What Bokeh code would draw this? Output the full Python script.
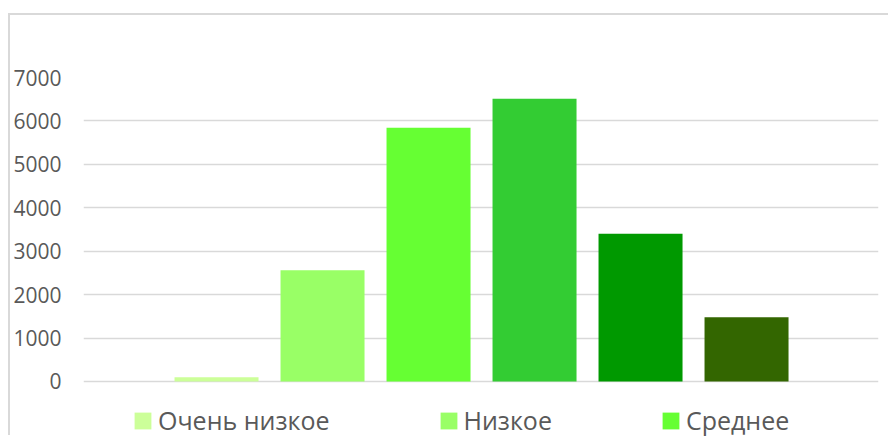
from bokeh.plotting import figure
from bokeh.models import ColumnDataSource, Range1d, Legend, LegendItem, FixedTicker
from bokeh.embed import file_html
from bokeh.resources import INLINE

categories = ["Очень низкое", "Низкое", "Среднее", "Выше среднего", "Высокое", "Очень высокое"]
values = [100, 2560, 5840, 6510, 3400, 1480]
colors = ["#CCFF99", "#99FF66", "#66FF33", "#33CC33", "#009900", "#336600"]
y_ticks = [0, 1000, 2000, 3000, 4000, 5000, 6000, 7000]
legend_shown = 3

FONT = "Open Sans"
TXT = "#595959"

src = ColumnDataSource(dict(x=list(range(len(categories))), top=values, color=colors, name=categories))

# frame extends below zero to hold the legend area (no gridlines there)
p = figure(width=880, height=422, output_backend="svg", toolbar_location=None,
           x_range=Range1d(-1.255, 6.245), y_range=Range1d(-1290, 7000),
           min_border_left=73, min_border_right=12, min_border_top=62, min_border_bottom=0)
p.styles = {"border-top": "2px solid #d9d9d9", "border-left": "2px solid #d9d9d9",
            "margin-top": "13px", "margin-left": "8px"}

r = p.vbar(x="x", top="top", width=0.7925, color="color", line_color=None, source=src)

p.xaxis.visible = False
p.xgrid.visible = False
p.outline_line_color = None
p.background_fill_color = "white"
p.border_fill_color = "white"

yax = p.yaxis[0]
yax.ticker = FixedTicker(ticks=y_ticks)
yax.axis_line_color = None
yax.major_tick_line_color = None
yax.minor_tick_line_color = None
yax.major_tick_out = 0
yax.major_tick_in = 0
yax.major_label_standoff = 22
yax.major_label_text_font = FONT
yax.major_label_text_font_size = "21px"
yax.major_label_text_color = TXT

p.ygrid.ticker = FixedTicker(ticks=y_ticks)
p.ygrid.grid_line_color = "#d9d9d9"
p.ygrid.grid_line_width = 1.5

items = [LegendItem(label=categories[i], renderers=[r], index=i) for i in range(legend_shown)]
legend = Legend(items=items, orientation="horizontal", location=(49, 0),
                glyph_width=21, glyph_height=21, label_standoff=5, spacing=108,
                padding=0, margin=0, border_line_color=None, background_fill_alpha=0,
                label_text_font=FONT, label_text_font_size="25px", label_text_color=TXT,
                label_height=21)
p.add_layout(legend, "center")

open("out.html", "w").write(file_html(p, INLINE))
